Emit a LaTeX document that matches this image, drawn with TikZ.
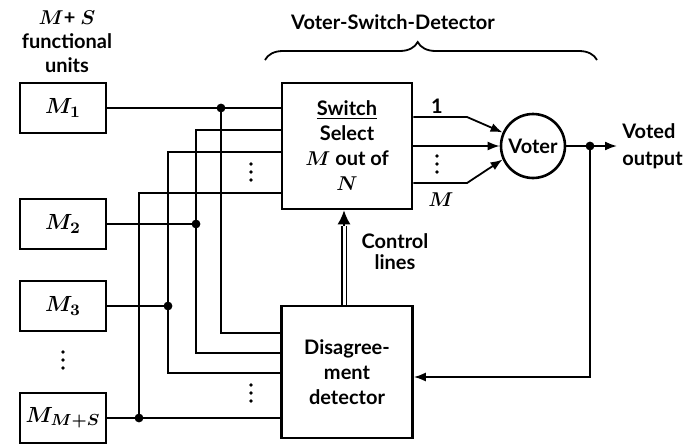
\documentclass[tikz,border=0pt]{standalone}
\usepackage{fontspec}
\setmainfont{Lato}
\usepackage{tikz}
\usetikzlibrary{calc,positioning,arrows.meta,decorations.pathreplacing}

\tikzset{
  unit/.style={draw, line width=1.3pt, minimum width=43pt, minimum height=25pt, inner sep=0pt, font=\bfseries\boldmath\fontsize{11}{13}\selectfont},
  blk/.style={draw, line width=1.3pt, align=center, inner sep=0pt, font=\bfseries\boldmath\fontsize{10}{12.5}\selectfont},
  lbl/.style={align=center, inner sep=0pt, font=\bfseries\boldmath\fontsize{10}{12}\selectfont},
  wire/.style={line width=0.9pt},
  arr/.style={line width=0.9pt, -{Latex[length=6pt,width=4.5pt]}},
  ctrl/.style={double, double distance=1.5pt, line width=0.8pt},
}
% three small dots, standing for the units left out
\newcommand\vdotsat[2]{\foreach \k in {-1,0,1} \fill (#1,#2+8*\k) circle (0.9pt);}

\begin{document}
\begin{tikzpicture}[x=0.5pt,y=-0.5pt]
\useasboundingbox (0,0) rectangle (692,445);

% functional units
\node[lbl] (units) at (67,42) {$M$+ $S$\\functional\\units};
\node[unit] (m1) at (63,108) {$M_1$};
\node[unit] (m2) at (63,224) {$M_2$};
\node[unit] (m3) at (63,306) {$M_3$};
\node[unit] (m4) at (63,418) {$M_{M+S}$};
\vdotsat{63}{360}

% switch, detector, voter
\node[blk, minimum width=65pt, minimum height=63pt] (sw) at (347,146) {\underline{Switch}\\Select\\$M$ out of\\$N$};
\node[blk, minimum width=65.5pt, minimum height=66pt] (dt) at (347,372) {Disagree-\\ment\\detector};
\node[blk, circle, minimum size=32pt] (vt) at (533,146) {Voter};

\draw[line width=0.9pt, decorate, decoration={brace, amplitude=9pt, aspect=0.46}] (265,60) -- (597,60);
\node[lbl] (vsd) at (393,22) {Voter-Switch-Detector};

% buses
\coordinate (j1) at (221,108);
\coordinate (j2) at (196,224);
\coordinate (j3) at (168,306);
\coordinate (j4) at (139,418);
\coordinate (s2) at (0,130);
\coordinate (s3) at (0,152);
\coordinate (s4) at (0,193);
\coordinate (d1) at (0,333);
\coordinate (d2) at (0,353);
\coordinate (d3) at (0,373);

\draw[wire] (m1.east) -- (m1.east -| sw.west);
\draw[wire] (j1) |- (dt.west |- d1);
\draw[wire] (m2.east) -- (j2);
\draw[wire] (sw.west |- s2) -| (j2) |- (dt.west |- d2);
\draw[wire] (m3.east) -- (j3);
\draw[wire] (sw.west |- s3) -| (j3) |- (dt.west |- d3);
\draw[wire] (m4.east) -- (m4.east -| dt.west);
\draw[wire] (sw.west |- s4) -| (j4);
\foreach \j in {j1,j2,j3,j4}
  \fill (\j) circle (2.2pt);
\vdotsat{251}{172}
\vdotsat{251}{393}

% switch outputs
\coordinate (k1) at (467,117);
\coordinate (k3) at (467,183);
\draw[arr] (sw.east |- k1) -- (k1) -- (vt.156);
\draw[arr] (sw.east) -- (vt.west);
\draw[arr] (sw.east |- k3) -- (k3) -- (vt.204);
\node[lbl] (one) at (437,106) {1};
\node[lbl] (mlbl) at (441,200) {$M$};
\vdotsat{437}{164}

% output and feedback
\coordinate (jo) at (590,146);
\coordinate (vout) at (617,146);
\coordinate (fb) at (0,377);
\draw[arr] (vt.east) -- (vout);
\draw[arr] (jo) |- (dt.east |- fb);
\fill (jo) circle (2.2pt);
\node[lbl, anchor=west, align=left, font=\bfseries\fontsize{10}{13.5}\selectfont] (vlbl) at (622,146) {Voted\\output};

% control lines
\coordinate (cx) at (344,0);
\coordinate (ct) at (344,226);
\draw[ctrl] (dt.north -| cx) -- (ct);
\draw[line width=0.8pt, -{Latex[length=7pt,width=6.5pt]}] (ct) -- (sw.south -| cx);
\node[lbl, font=\bfseries\fontsize{10}{10.5}\selectfont] (clbl) at (395,252) {Control\\lines};

\end{tikzpicture}
\end{document}
